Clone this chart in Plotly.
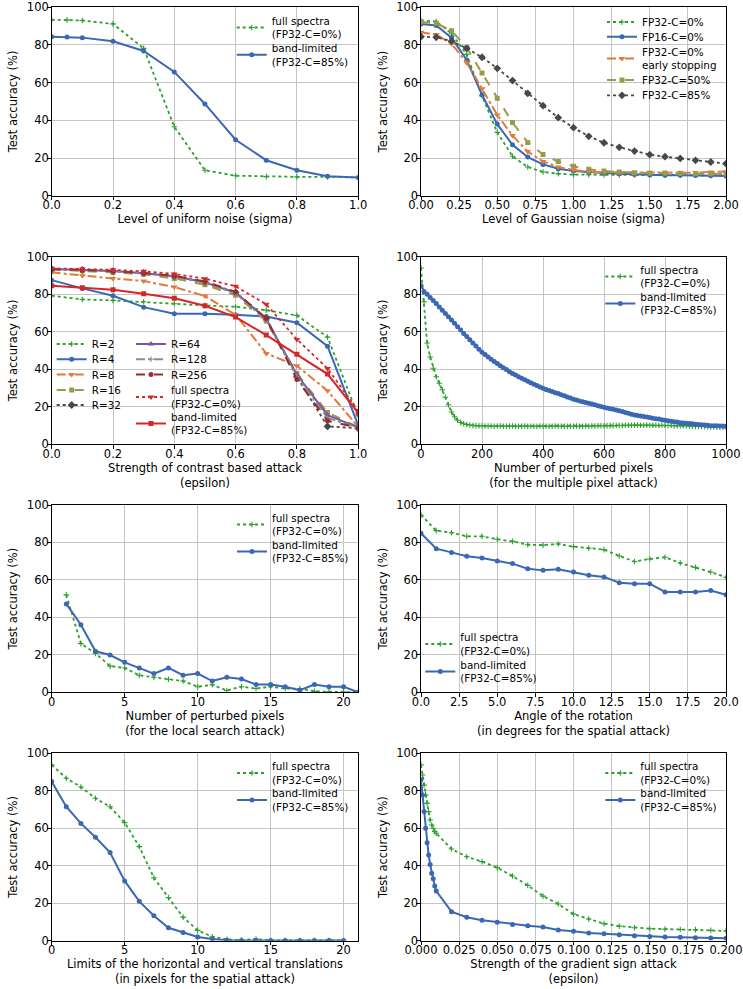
import plotly.graph_objects as go

W, H = 743, 989

# ---------------- data ----------------
# (1) uniform noise
u_x = [0.0, 0.05, 0.1, 0.2, 0.3, 0.4, 0.5, 0.6, 0.7, 0.8, 0.9, 1.0]
u_full = [93.4, 93.3, 93.0, 91.2, 78.2, 36.6, 13.5, 10.6, 10.1, 10.0, 10.0, 9.7]
u_band = [84.4, 84.2, 83.9, 82.0, 76.8, 65.7, 48.7, 29.7, 18.8, 13.5, 10.3, 9.6]

# (2) gaussian noise
g_x = [0.0, 0.1, 0.2, 0.3, 0.4, 0.5, 0.6, 0.7, 0.8, 0.9, 1.0, 1.1, 1.2, 1.3, 1.4, 1.5, 1.6, 1.7, 1.8, 1.9, 2.0]
g_fp32 = [93.0, 92.5, 86.0, 75.0, 53.0, 33.6, 20.9, 15.2, 12.6, 11.7, 11.2, 11.1, 11.0, 11.0, 11.0, 11.0, 10.9, 10.9, 10.9, 10.8, 10.8]
g_fp16 = [91.2, 90.3, 83.9, 72.0, 53.6, 38.0, 27.0, 20.5, 16.6, 14.3, 13.1, 12.4, 12.0, 11.7, 11.3, 11.0, 10.9, 10.8, 10.7, 10.6, 10.5]
g_early = [86.7, 85.5, 80.7, 70.6, 56.8, 42.8, 31.9, 23.4, 18.2, 15.2, 13.6, 12.7, 12.4, 12.4, 12.2, 12.0, 12.1, 12.1, 12.2, 12.6, 12.7]
g_c50 = [92.2, 91.5, 87.6, 78.6, 65.1, 51.7, 38.8, 28.3, 21.9, 18.1, 15.6, 14.0, 13.1, 12.6, 12.2, 12.0, 12.0, 11.9, 11.7, 11.7, 11.5]
g_c85 = [84.4, 84.1, 82.0, 78.2, 73.5, 67.6, 61.1, 54.3, 47.8, 41.4, 36.1, 31.5, 28.1, 25.7, 23.7, 21.8, 20.7, 19.8, 18.8, 17.9, 17.0]

# (3) contrast attack
c_x = [0.0, 0.1, 0.2, 0.3, 0.4, 0.5, 0.6, 0.7, 0.8, 0.9, 1.0]
c_r2 = [79.2, 77.2, 76.7, 76.0, 74.9, 74.0, 73.3, 71.5, 68.7, 57.1, 15.0]
c_r4 = [87.5, 83.1, 79.2, 73.1, 69.6, 69.6, 69.0, 68.1, 64.8, 52.3, 10.1]
c_r8 = [91.6, 89.9, 88.4, 87.0, 83.8, 79.0, 69.0, 48.4, 41.8, 28.5, 9.3]
c_r16 = [93.2, 92.5, 91.6, 90.6, 88.4, 85.0, 79.4, 65.7, 37.7, 16.9, 9.1]
c_r32 = [93.4, 92.9, 92.3, 91.3, 89.7, 86.5, 81.0, 67.0, 36.0, 9.5, 8.5]
c_r64 = [93.4, 93.0, 92.4, 91.2, 89.6, 86.3, 80.8, 66.8, 37.0, 15.5, 9.0]
c_r128 = [93.3, 92.8, 92.2, 91.0, 89.4, 86.0, 80.5, 66.0, 36.0, 14.0, 8.8]
c_r256 = [93.5, 93.0, 92.4, 91.3, 89.8, 86.8, 81.2, 67.1, 34.5, 12.5, 8.8]
c_full = [93.8, 93.5, 93.0, 92.2, 90.8, 88.3, 84.2, 74.6, 55.9, 40.4, 17.8]
c_band = [84.5, 83.5, 82.4, 80.2, 77.8, 73.8, 67.8, 58.2, 48.0, 37.4, 16.7]

# (4) multiple pixel attack
m_x = list(range(0, 1001, 10))
m_full = [94.0, 76.0, 54.0, 46.5, 40.5, 36.0, 32.5, 29.0, 25.0, 21.0,
          17.2, 14.6, 12.8, 11.6, 10.9, 10.5, 10.2, 10.0, 9.9, 9.8,
          9.8, 9.7, 9.7, 9.7, 9.6, 9.7, 9.7, 9.6, 9.6, 9.7,
          9.7, 9.6, 9.6, 9.6, 9.7, 9.6, 9.6, 9.6, 9.6, 9.7,
          9.6, 9.6, 9.6, 9.6, 9.7, 9.6, 9.6, 9.6, 9.6, 9.6,
          9.6, 9.7, 9.6, 9.6, 9.7, 9.6, 9.7, 9.7, 9.8, 9.8,
          9.8, 9.9, 9.9, 9.9, 10.0, 10.0, 10.0, 10.1, 10.1, 10.1,
          10.2, 10.2, 10.1, 10.1, 10.2, 10.1, 10.1, 10.1, 10.0, 10.1,
          10.0, 10.0, 10.0, 9.9, 9.9, 9.9, 9.8, 9.8, 9.7, 9.6,
          9.5, 9.5, 9.4, 9.4, 9.3, 9.2, 9.2, 9.1, 9.1, 9.0, 9.0]
m_band = [84.5, 81.5, 80.0, 78.3, 76.6, 75.0, 73.2, 71.4, 69.7, 68.0,
          66.3, 64.5, 62.7, 60.9, 59.1, 57.4, 55.7, 54.0, 52.4, 50.7,
          49.0, 47.8, 46.5, 45.3, 44.1, 43.0, 41.9, 40.8, 39.8, 38.7,
          37.7, 36.9, 36.0, 35.2, 34.4, 33.6, 32.8, 32.0, 31.3, 30.5,
          29.8, 29.2, 28.6, 28.1, 27.5, 27.0, 26.4, 25.8, 25.2, 24.6,
          24.0, 23.6, 23.1, 22.7, 22.2, 21.8, 21.4, 21.0, 20.5, 20.1,
          19.7, 19.3, 18.9, 18.6, 18.2, 17.8, 17.4, 16.9, 16.5, 16.0,
          15.6, 15.3, 15.0, 14.8, 14.5, 14.2, 13.9, 13.6, 13.4, 13.1,
          12.8, 12.5, 12.3, 12.0, 11.8, 11.5, 11.3, 11.2, 11.0, 10.9,
          10.7, 10.5, 10.4, 10.2, 10.1, 9.9, 9.8, 9.8, 9.7, 9.7, 9.6]

# (5) local search attack
l_x = [1, 2, 3, 4, 5, 6, 7, 8, 9, 10, 11, 12, 13, 14, 15, 16, 17, 18, 19, 20, 21]
l_full = [52.0, 26.0, 20.8, 14.0, 13.0, 9.1, 8.0, 7.0, 6.0, 3.0, 4.0, 1.0, 3.0, 2.0, 3.0, 2.0, 2.0, 0.5, 0.3, 0.3, 0.0]
l_band = [47.2, 36.1, 21.9, 19.9, 16.0, 13.0, 10.0, 13.0, 9.1, 10.0, 6.0, 8.0, 7.1, 4.1, 4.1, 3.0, 1.1, 4.1, 3.0, 3.0, 0.0]

# (6) rotation
r_x = list(range(0, 21))
r_full = [94.7, 86.3, 85.2, 83.3, 83.3, 81.7, 80.6, 78.8, 78.6, 79.2, 77.8, 76.9, 76.2, 72.8, 69.8, 71.2, 72.1, 69.0, 66.7, 64.2, 61.4]
r_band = [84.9, 76.7, 74.7, 72.6, 71.7, 70.1, 68.7, 66.0, 65.1, 65.7, 64.2, 62.5, 61.6, 58.5, 58.0, 58.0, 53.6, 53.6, 53.6, 54.3, 52.1]

# (7) translations
t_x = list(range(0, 21))
t_full = [93.8, 86.7, 82.0, 76.0, 71.5, 63.0, 50.2, 33.6, 23.0, 12.6, 5.5, 2.1, 0.7, 0.3, 0.9, 0.1, 0.1, 0.1, 0.1, 0.1, 0.1]
t_band = [84.9, 71.5, 62.6, 55.2, 47.0, 31.9, 21.0, 13.3, 6.9, 4.4, 2.0, 0.9, 0.3, 0.1, 0.1, 0.1, 0.1, 0.1, 0.1, 0.1, 0.1]

# (8) gradient sign attack
f_x = [0.0, 0.001, 0.002, 0.003, 0.004, 0.005, 0.006, 0.007, 0.008, 0.009, 0.01,
       0.02, 0.03, 0.04, 0.05, 0.06, 0.07, 0.08, 0.09, 0.1, 0.11, 0.12, 0.13, 0.14,
       0.15, 0.16, 0.17, 0.18, 0.19, 0.2]
f_full = [93.8, 88.4, 83.0, 77.8, 73.3, 68.9, 64.4, 61.7, 60.0, 58.2, 57.3,
          48.9, 44.8, 42.2, 39.0, 34.5, 29.5, 23.8, 19.6, 14.2, 11.6, 9.1, 7.8, 6.9,
          6.4, 6.2, 6.0, 5.9, 5.5, 5.2]
f_band = [86.0, 77.8, 68.9, 60.0, 52.3, 45.7, 40.7, 36.0, 33.0, 29.2, 26.5,
          15.5, 12.5, 10.9, 9.8, 8.7, 8.0, 7.3, 5.7, 5.0, 4.1, 3.7, 3.2, 2.7,
          2.3, 2.0, 1.8, 1.6, 1.4, 1.3]

y_ticks = [0, 20, 40, 60, 80, 100]

# ---------------- styling ----------------
FONT = "DejaVu Sans"
FS = 11.5
LFS = 10.4
GREEN = "#2ca02c"
BLUE = "#3a68b4"
ORANGE = "#e07b39"
OLIVE = "#9c9a4a"
DGRAY = "#484848"
PURPLE = "#7b54a8"
GRAY = "#8c8c8c"
DRED = "#9b2a2a"
RED = "#d62728"

def clamp(v):
    return max(0.0, min(1.0, v))

def px_x(p):
    return clamp(p / W)

def px_y(p):
    return clamp(1 - p / H)

cols = [(51.7, 358.2), (421.0, 726.0)]
rows = [(7.3, 195.7), (256.7, 444.2), (505.0, 692.3), (753.3, 940.7)]

fig = go.Figure()
layout_legends = {}

STY = {
    "full": dict(color=GREEN, dash="dot", width=1.8, symbol="cross-thin", msize=4),
    "band": dict(color=BLUE, dash="solid", width=2, symbol="circle", msize=5),
    "early": dict(color=ORANGE, dash="dashdot", width=2, symbol="triangle-down", msize=6),
    "c50": dict(color=OLIVE, dash="dash", width=2, symbol="square", msize=5),
    "c85": dict(color=DGRAY, dash="dot", width=1.8, symbol="diamond", msize=6),
    "r64": dict(color=PURPLE, dash="solid", width=2, symbol="triangle-up", msize=6),
    "r128": dict(color=GRAY, dash="dashdot", width=2, symbol="cross-thin", msize=4),
    "r256": dict(color=DRED, dash="dash", width=2, symbol="circle", msize=5),
    "cfull": dict(color=RED, dash="dot", width=1.8, symbol="triangle-down", msize=6),
    "cband": dict(color=RED, dash="solid", width=2, symbol="square", msize=5),
}

counter = [0]

def add(x, y, name, sty, k, text_x, center_y):
    """one trace, with its own legend entry placed at (text_x, center_y) page pixels"""
    s = STY[sty]
    ax = "" if k == 1 else str(k)
    counter[0] += 1
    lid = "legend" if counter[0] == 1 else "legend%d" % counter[0]
    nlines = name.count("<br>") + 1
    h = max(nlines * 1.3 * LFS, 16) + 3
    top = center_y - 5 - h / 2
    layout_legends[lid] = dict(
        x=(text_x - 40) / W, y=1 - top / H, xanchor="left", yanchor="top",
        bgcolor="rgba(0,0,0,0)", borderwidth=0, tracegroupgap=0, itemwidth=30,
        font=dict(family=FONT, size=LFS, color="black"),
    )
    marker = dict(symbol=s["symbol"], size=s["msize"], color=s["color"])
    if s["symbol"].endswith("-thin"):
        marker["line"] = dict(color=s["color"], width=1.1)
    fig.add_trace(go.Scatter(
        x=x, y=y, name=name, mode="lines+markers",
        line=dict(color=s["color"], dash=s["dash"], width=s["width"]),
        marker=marker,
        xaxis="x" + ax, yaxis="y" + ax, legend=lid, showlegend=True,
    ))

FULL = "full spectra<br>(FP32-C=0%)"
BAND = "band-limited<br>(FP32-C=85%)"

add(u_x, u_full, FULL, "full", 1, 271.7, 27.5)
add(u_x, u_band, BAND, "band", 1, 271.7, 54.7)

add(g_x, g_fp32, "FP32-C=0%", "full", 2, 642, 22)
add(g_x, g_fp16, "FP16-C=0%", "band", 2, 642, 36.7)
add(g_x, g_early, "FP32-C=0%<br>early stopping", "early", 2, 642, 58.5)
add(g_x, g_c50, "FP32-C=50%", "c50", 2, 642, 80)
add(g_x, g_c85, "FP32-C=85%", "c85", 2, 642, 95.3)

add(c_x, c_r2, "R=2", "full", 3, 91.7, 344)
add(c_x, c_r4, "R=4", "band", 3, 91.7, 359.3)
add(c_x, c_r8, "R=8", "early", 3, 91.7, 374.5)
add(c_x, c_r16, "R=16", "c50", 3, 91.7, 390)
add(c_x, c_r32, "R=32", "c85", 3, 91.7, 405)
add(c_x, c_r64, "R=64", "r64", 3, 171, 344)
add(c_x, c_r128, "R=128", "r128", 3, 171, 359.3)
add(c_x, c_r256, "R=256", "r256", 3, 171, 374.5)
add(c_x, c_full, FULL, "cfull", 3, 171, 397)
add(c_x, c_band, BAND, "cband", 3, 171, 423.5)

add(m_x, m_full, FULL, "full", 4, 640.3, 276.5)
add(m_x, m_band, BAND, "band", 4, 640.3, 303.5)

add(l_x, l_full, FULL, "full", 5, 272, 524.5)
add(l_x, l_band, BAND, "band", 5, 272, 551.5)

add(r_x, r_full, FULL, "full", 6, 460.3, 644)
add(r_x, r_band, BAND, "band", 6, 460.3, 671.5)

add(t_x, t_full, FULL, "full", 7, 272, 773)
add(t_x, t_band, BAND, "band", 7, 272, 800)

add(f_x, f_full, FULL, "full", 8, 640.3, 773)
add(f_x, f_band, BAND, "band", 8, 640.3, 800)

xspecs = [
    dict(rng=[0, 1], tv=[0, 0.2, 0.4, 0.6, 0.8, 1.0], tt=["0.0", "0.2", "0.4", "0.6", "0.8", "1.0"],
         title="Level of uniform noise (sigma)"),
    dict(rng=[0, 2], tv=[0, 0.25, 0.5, 0.75, 1.0, 1.25, 1.5, 1.75, 2.0],
         tt=["0.00", "0.25", "0.50", "0.75", "1.00", "1.25", "1.50", "1.75", "2.00"],
         title="Level of Gaussian noise (sigma)"),
    dict(rng=[0, 1], tv=[0, 0.2, 0.4, 0.6, 0.8, 1.0], tt=["0.0", "0.2", "0.4", "0.6", "0.8", "1.0"],
         title="Strength of contrast based attack<br>(epsilon)"),
    dict(rng=[0, 1000], tv=[0, 200, 400, 600, 800, 1000], tt=["0", "200", "400", "600", "800", "1000"],
         title="Number of perturbed pixels<br>(for the multiple pixel attack)"),
    dict(rng=[0, 21], tv=[0, 5, 10, 15, 20], tt=["0", "5", "10", "15", "20"],
         title="Number of perturbed pixels<br>(for the local search attack)"),
    dict(rng=[0, 20], tv=[0, 2.5, 5, 7.5, 10, 12.5, 15, 17.5, 20],
         tt=["0.0", "2.5", "5.0", "7.5", "10.0", "12.5", "15.0", "17.5", "20.0"],
         title="Angle of the rotation<br>(in degrees for the spatial attack)"),
    dict(rng=[0, 21], tv=[0, 5, 10, 15, 20], tt=["0", "5", "10", "15", "20"],
         title="Limits of the horizontal and vertical translations<br>(in pixels for the spatial attack)"),
    dict(rng=[0, 0.2], tv=[0, 0.025, 0.05, 0.075, 0.1, 0.125, 0.15, 0.175, 0.2],
         tt=["0.000", "0.025", "0.050", "0.075", "0.100", "0.125", "0.150", "0.175", "0.200"],
         title="Strength of the gradient sign attack<br>(epsilon)"),
]

layout = dict(
    width=W, height=H,
    margin=dict(l=0, r=0, t=0, b=0),
    paper_bgcolor="white", plot_bgcolor="white",
    font=dict(family=FONT, size=FS, color="black"),
)

common_axis = dict(
    showline=True, linecolor="black", linewidth=1.2, mirror=True,
    ticks="outside", ticklen=3.5, tickwidth=1.2, tickcolor="black",
    showgrid=True, gridcolor="#c4c4c4", gridwidth=1.3,
    zeroline=False, tickfont=dict(family=FONT, size=FS, color="black"),
    automargin=False, ticklabeloverflow="allow",
)

for k in range(1, 9):
    r = (k - 1) // 2
    c = (k - 1) % 2
    x0, x1 = cols[c]
    y0, y1 = rows[r]
    ax = "" if k == 1 else str(k)
    sp = xspecs[k - 1]
    layout["xaxis" + ax] = dict(
        common_axis, domain=[px_x(x0), px_x(x1)], anchor="y" + ax,
        range=sp["rng"], tickmode="array", tickvals=sp["tv"], ticktext=sp["tt"],
        ticklabelstandoff=-5,
        title=dict(text=sp["title"], font=dict(family=FONT, size=FS), standoff=3),
    )
    layout["yaxis" + ax] = dict(
        common_axis, domain=[px_y(y1), px_y(y0)], anchor="x" + ax,
        range=[0, 100], tickmode="array", tickvals=y_ticks,
        ticktext=[str(v) for v in y_ticks], ticklabelstandoff=-4,
        title=dict(text="Test accuracy (%)", font=dict(family=FONT, size=FS), standoff=6),
    )

layout.update(layout_legends)
fig.update_layout(**layout)
# remove the default 8px body margin of the page so the figure sits at the window corner
fig.write_html("out.html", config={"displayModeBar": False},
               post_script="document.body.style.margin='0';")
